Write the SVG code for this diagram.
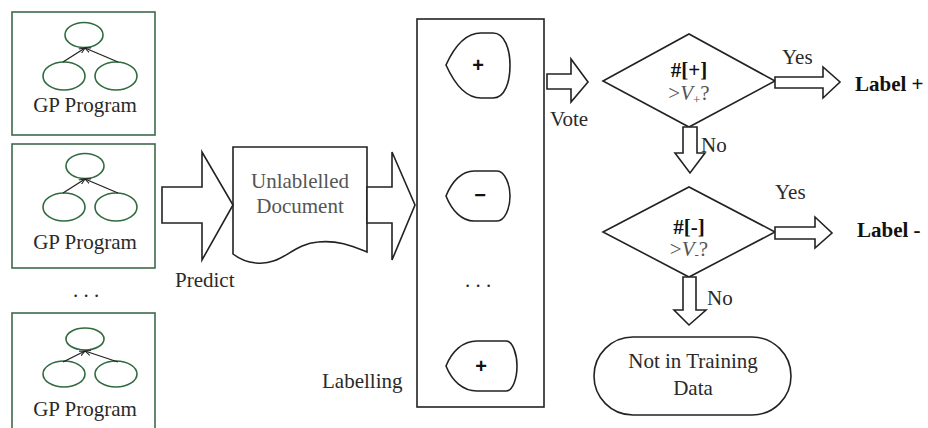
<svg xmlns="http://www.w3.org/2000/svg" width="928" height="428" viewBox="0 0 928 428" font-family="'Liberation Serif', 'Times New Roman', 'DejaVu Serif', serif">
<defs>
<style>
.t{font-family:'Liberation Serif','Times New Roman','DejaVu Serif',serif;font-size:21px;fill:#2a2a2a}
.g{fill:#555}
.b{font-weight:bold;fill:#111}
.gpbox{fill:#fff;stroke:#3d6b4a;stroke-width:1.6}
.ell{fill:none;stroke:#2f6b3f;stroke-width:1.6}
.tl{stroke:#222;stroke-width:1.3;marker-end:url(#ah)}
.sh{fill:#fff;stroke:#222;stroke-width:1.6;stroke-linejoin:miter}
.sym{font-family:'Liberation Sans',Arial,sans-serif;font-size:20px;font-weight:bold;fill:#111}
</style>
<marker id="ah" viewBox="0 0 10 10" refX="9" refY="5" markerWidth="5" markerHeight="5" orient="auto"><path d="M0,1 L9,5 L0,9" fill="none" stroke="#222" stroke-width="1.6"/></marker>
</defs>
<rect width="928" height="428" fill="#fff"/>

<g id="gp1">
<rect class="gpbox" x="12" y="12" width="143" height="123"/>
<ellipse class="ell" cx="84" cy="35" rx="19" ry="12.5"/>
<ellipse class="ell" cx="64" cy="76" rx="21" ry="14"/>
<ellipse class="ell" cx="116" cy="76" rx="21" ry="14"/>
<line class="tl" x1="63" y1="62" x2="85" y2="48"/>
<line class="tl" x1="118" y1="62" x2="85" y2="48"/>
<text class="t" x="85" y="112" text-anchor="middle">GP Program</text>
</g>
<g id="gp2">
<rect class="gpbox" x="12" y="144" width="143" height="124"/>
<ellipse class="ell" cx="85" cy="166" rx="19" ry="12.5"/>
<ellipse class="ell" cx="64" cy="207" rx="21" ry="14"/>
<ellipse class="ell" cx="116" cy="207" rx="21" ry="14"/>
<line class="tl" x1="63" y1="193" x2="85" y2="179"/>
<line class="tl" x1="118" y1="193" x2="85" y2="179"/>
<text class="t" x="85" y="249" text-anchor="middle">GP Program</text>
</g>
<text class="t" x="86" y="297" text-anchor="middle">. . .</text>
<g id="gp3">
<rect class="gpbox" x="12" y="313" width="143" height="125"/>
<ellipse class="ell" cx="85" cy="339" rx="19" ry="11"/>
<ellipse class="ell" cx="64" cy="374" rx="21" ry="13"/>
<ellipse class="ell" cx="116" cy="374" rx="21" ry="13"/>
<line class="tl" x1="63" y1="362" x2="85" y2="351"/>
<line class="tl" x1="118" y1="362" x2="85" y2="351"/>
<text class="t" x="85" y="416" text-anchor="middle">GP Program</text>
</g>

<g id="document">
<path class="sh" d="M233,147 L367,147 L367,252 C352,246 338,240 318,242 C292,244 282,266 256,263 C245,262 238,258 233,254 Z"/>
<text class="t g" x="300" y="188" text-anchor="middle">Unlablelled</text>
<text class="t g" x="300" y="213" text-anchor="middle">Document</text>
</g>

<g id="labelling">
<rect class="sh" x="417" y="19" width="127" height="388"/>
<path class="sh" d="M446,65 C455,45 467,33 481,33 L493,33 C505,33 510,50 510,65 C510,82 505,98 493,98 L481,98 C467,98 455,85 446,65 Z"/>
<text class="sym" x="478" y="72" text-anchor="middle">+</text>
<path class="sh" d="M446,196 C452,181 462,171 474,171 L497,171 C505,171 510,185 510,196 C510,208 505,221 497,221 L474,221 C462,221 452,211 446,196 Z"/>
<text class="sym" x="480" y="202" text-anchor="middle">−</text>
<text class="t" x="478" y="287" text-anchor="middle">. . .</text>
<path class="sh" d="M446,366 C452,351 463,341 477,341 L506,341 C513,341 517,355 517,366 C517,378 513,391 506,391 L477,391 C463,391 452,381 446,366 Z"/>
<text class="sym" x="481" y="373" text-anchor="middle">+</text>
</g>
<text class="t" x="322" y="388">Labelling</text>

<g id="decision-plus">
<path class="sh" d="M603,81 L689,34 L775,81 L689,127 Z"/>
<text class="t b" x="689" y="77" text-anchor="middle">#[+]</text>
<text class="t g" x="689" y="100" text-anchor="middle">&gt;<tspan font-style="italic">V</tspan><tspan font-size="13" dy="4">+</tspan><tspan dy="-4">?</tspan></text>
</g>
<g id="decision-minus">
<path class="sh" d="M603,232 L689,187 L775,232 L689,277 Z"/>
<text class="t b" x="689" y="234" text-anchor="middle">#[-]</text>
<text class="t g" x="689" y="256" text-anchor="middle">&gt;<tspan font-style="italic">V</tspan><tspan font-size="13" dy="3">-</tspan><tspan dy="-3">?</tspan></text>
</g>
<g id="label-plus"><text class="t b" x="855" y="91">Label +</text></g>
<g id="label-minus"><text class="t b" x="857" y="237">Label -</text></g>
<g id="not-in-training">
<rect class="sh" x="594" y="337" width="197" height="78" rx="39" ry="39"/>
<text class="t" x="693" y="368" text-anchor="middle">Not in Training</text>
<text class="t" x="693" y="395" text-anchor="middle">Data</text>
</g>

<g id="connectors">
<path class="sh" d="M162,187 L202,187 L202,152 L233,205 L202,260 L202,223 L162,223 Z"/>
<path class="sh" d="M367,187 L392,187 L392,152 L415,205 L392,260 L392,223 L367,223 Z"/>
<path class="sh" d="M547,74 L571,74 L571,59 L588,82 L571,102 L571,89 L547,89 Z"/>
<path class="sh" d="M775,77 L823,77 L823,67 L840,82 L823,98 L823,88 L775,88 Z"/>
<path class="sh" d="M775,227 L815,227 L815,217 L832,233 L815,248 L815,239 L775,239 Z"/>
<path class="sh" d="M683,127 L697,127 L697,153 L705,153 L690,173 L675,153 L683,153 Z"/>
<path class="sh" d="M683,277 L696,277 L696,310 L706,310 L689,325 L674,310 L683,310 Z"/>
</g>
<text class="t" x="175" y="287">Predict</text>
<text class="t" x="550" y="126">Vote</text>
<text class="t" x="782" y="64">Yes</text>
<text class="t" x="775" y="199">Yes</text>
<text class="t" x="701" y="152">No</text>
<text class="t" x="707" y="305">No</text>
</svg>
